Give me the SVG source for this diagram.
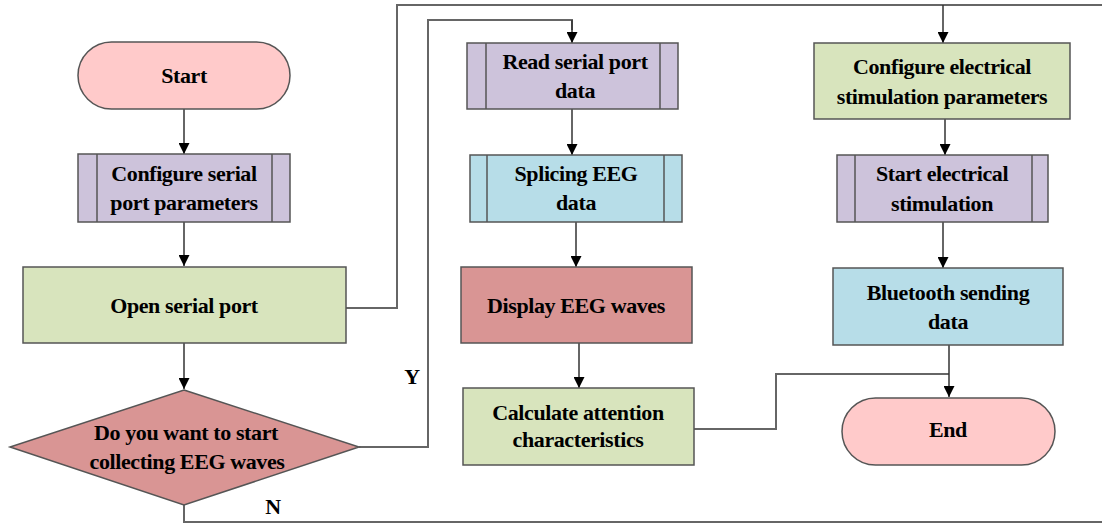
<svg xmlns="http://www.w3.org/2000/svg" width="1102" height="527" viewBox="0 0 1102 527">
<defs>
<marker id="ah" viewBox="0 0 10 10" refX="10" refY="5" markerWidth="11" markerHeight="11" markerUnits="userSpaceOnUse" orient="auto">
<path d="M0,0 L10,5 L0,10 Z" fill="#000"/>
</marker>
<style>
.sh{stroke:#555;stroke-width:1.5}
.inner{stroke:#555;stroke-width:1.5;fill:none}
.pink{fill:#ffcaca}
.lav{fill:#cdc3db}
.grn{fill:#d8e4bd}
.blu{fill:#b7dde8}
.red{fill:#d99594}
.t{font-family:"Liberation Serif","Times New Roman",serif;font-weight:bold;font-size:22px;text-anchor:middle;fill:#000;letter-spacing:-0.4px}
.c{fill:none;stroke:#666;stroke-width:2}
.a{fill:none;stroke:#333;stroke-width:1.5;marker-end:url(#ah)}
</style>
</defs>
<rect width="1102" height="527" fill="#fff"/>
<g id="connectors">
<path class="a" d="M184,109 V154"/>
<path class="a" d="M184,222 V266"/>
<path class="a" d="M184,343 V389"/>
<path class="c" d="M346,308 H397 V5 H1102"/>
<path class="a" d="M943,5 V43"/>
<path class="c" d="M359,447 H428 V20 H572 V30"/>
<path class="a" d="M572,20 V43"/>
<path class="c" d="M184,505 V522 H1102"/>
<path class="a" d="M572,109 V155"/>
<path class="a" d="M576,222 V267"/>
<path class="a" d="M579,343 V388"/>
<path class="a" d="M945,119 V155"/>
<path class="a" d="M943,222 V268"/>
<path class="c" d="M694,429 H776 V374 H949"/>
<path class="a" d="M949,345 V397"/>
<text class="t" x="412" y="384">Y</text>
<text class="t" x="273" y="514">N</text>
</g>
<g id="start">
<rect class="sh pink" x="78" y="42" width="212" height="67" rx="33.5"/>
<text class="t" x="184" y="83">Start</text>
</g>
<g id="config-serial">
<rect class="sh lav" x="78" y="154" width="212" height="68"/>
<path class="inner" d="M97,154 V222 M272,154 V222"/>
<text class="t" x="184" y="181">Configure serial</text>
<text class="t" x="184" y="210">port parameters</text>
</g>
<g id="open-serial">
<rect class="sh grn" x="23" y="267" width="323" height="76"/>
<text class="t" x="184" y="313">Open serial port</text>
</g>
<g id="decision">
<polygon class="sh red" points="184,390 359,447 184,505 10,447"/>
<text class="t" x="186" y="440">Do you want to start</text>
<text class="t" x="187" y="469">collecting EEG waves</text>
</g>
<g id="read-serial">
<rect class="sh lav" x="467" y="43" width="211" height="66"/>
<path class="inner" d="M486,43 V109 M660,43 V109"/>
<text class="t" x="575" y="69">Read serial port</text>
<text class="t" x="575" y="98">data</text>
</g>
<g id="splicing">
<rect class="sh blu" x="470" y="155" width="212" height="67"/>
<path class="inner" d="M487,155 V222 M664,155 V222"/>
<text class="t" x="576" y="181">Splicing EEG</text>
<text class="t" x="576" y="210">data</text>
</g>
<g id="display">
<rect class="sh red" x="461" y="267" width="231" height="76"/>
<text class="t" x="576" y="313">Display EEG waves</text>
</g>
<g id="calculate">
<rect class="sh grn" x="463" y="388" width="231" height="77"/>
<text class="t" x="578" y="420">Calculate attention</text>
<text class="t" x="578" y="447">characteristics</text>
</g>
<g id="config-elec">
<rect class="sh grn" x="814" y="43" width="256" height="76"/>
<text class="t" x="942" y="74">Configure electrical</text>
<text class="t" x="942" y="104">stimulation parameters</text>
</g>
<g id="start-elec">
<rect class="sh lav" x="837" y="155" width="211" height="67"/>
<path class="inner" d="M855,155 V222 M1032,155 V222"/>
<text class="t" x="942" y="181">Start electrical</text>
<text class="t" x="942" y="211">stimulation</text>
</g>
<g id="bluetooth">
<rect class="sh blu" x="833" y="268" width="230" height="77"/>
<text class="t" x="948" y="300">Bluetooth sending</text>
<text class="t" x="948" y="329">data</text>
</g>
<g id="end">
<rect class="sh pink" x="842" y="398" width="213" height="67" rx="33.5"/>
<text class="t" x="948" y="437">End</text>
</g>
</svg>
